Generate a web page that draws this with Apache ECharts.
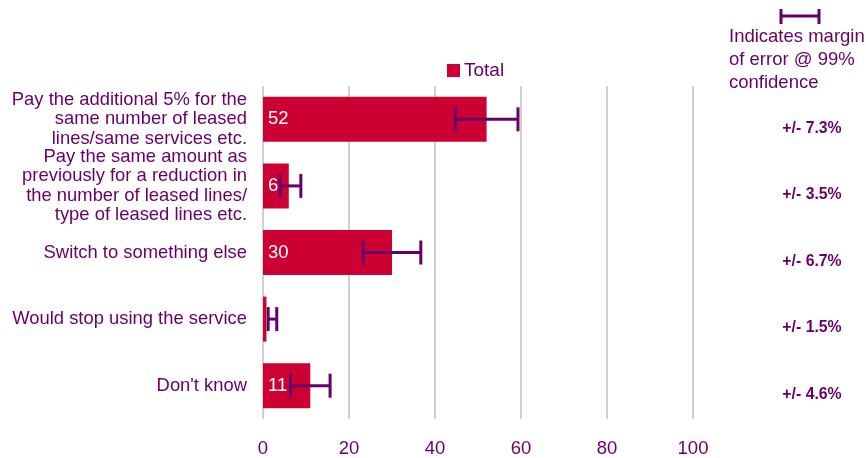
<!DOCTYPE html>
<html>
<head>
<meta charset="utf-8">
<script src="https://cdn.jsdelivr.net/npm/echarts@6/dist/echarts.min.js"></script>
<style>html,body{margin:0;padding:0;background:#fff}#c{width:866px;height:458px}</style>
</head>
<body>
<div id="c"></div>
<script>
const categories = [
  "Pay the additional 5% for the\nsame number of leased\nlines/same services etc.",
  "Pay the same amount as\npreviously for a reduction in\nthe number of leased lines/\ntype of leased lines etc.",
  "Switch to something else",
  "Would stop using the service",
  "Don't know"
];
const totals = [52, 6, 30, 0.8, 11];
const errLow = [44.7, 4, 23.3, 1.2, 6.4];
const errHigh = [59.3, 8.8, 36.7, 3.2, 15.6];
const marginLabels = ["+/- 7.3%", "+/- 3.5%", "+/- 6.7%", "+/- 1.5%", "+/- 4.6%"];
const xTicks = [0, 20, 40, 60, 80, 100];

const PURPLE = '#660066';
const RED = '#cc0033';
const FONT = '"Liberation Sans", Arial, sans-serif';

const chart = echarts.init(document.getElementById('c'), null, {renderer: 'canvas'});

const errData = categories.map((c, i) => [i, errLow[i], errHigh[i]]);
const marginData = categories.map((c, i) => [i, marginLabels[i]]);

chart.setOption({
  animation: false,
  textStyle: {fontFamily: FONT},
  grid: {left: 263, right: 173, top: 86, height: 334, containLabel: false},
  legend: {
    data: [{name: 'Total', icon: 'rect'}],
    left: 447, top: 61, padding: 0,
    itemWidth: 13, itemHeight: 13, itemGap: 10,
    textStyle: {color: PURPLE, fontSize: 19, fontFamily: FONT, padding: [0, 0, 0, -1]},
    selectedMode: false
  },
  xAxis: {
    type: 'value', min: 0, max: 100, interval: 20,
    axisLine: {show: false}, axisTick: {show: false},
    axisLabel: {color: PURPLE, fontSize: 18.5, margin: 20, fontFamily: FONT,
      formatter: v => xTicks.includes(v) ? String(v) : ''},
    splitLine: {show: true, lineStyle: {color: '#d0d0d0', width: 2}}
  },
  yAxis: {
    type: 'category', data: categories, inverse: true,
    axisLine: {show: false}, axisTick: {show: false},
    axisLabel: {color: PURPLE, fontSize: 18.4, lineHeight: 19.5, margin: 16, fontFamily: FONT, align: 'right', interval: 0}
  },
  series: [
    {
      name: 'Total', type: 'bar', data: totals, barWidth: 45,
      itemStyle: {color: RED},
      label: {show: true, position: 'insideLeft', distance: 5, color: '#fff', fontSize: 18.5, fontFamily: FONT,
        formatter: p => p.value >= 2 ? String(p.value) : ''},
      z: 2
    },
    {
      type: 'custom', name: 'err',
      data: errData,
      renderItem: function (params, api) {
        const i = api.value(0);
        const lo = api.coord([api.value(1), i]);
        const hi = api.coord([api.value(2), i]);
        const h = 12;
        const style = {stroke: PURPLE, lineWidth: 3};
        return {
          type: 'group',
          children: [
            {type: 'line', shape: {x1: lo[0], y1: lo[1], x2: hi[0], y2: hi[1]}, style: style},
            {type: 'line', shape: {x1: lo[0], y1: lo[1] - h, x2: lo[0], y2: lo[1] + h}, style: style},
            {type: 'line', shape: {x1: hi[0], y1: hi[1] - h, x2: hi[0], y2: hi[1] + h}, style: style}
          ]
        };
      },
      z: 5
    },
    {
      type: 'custom', name: 'margin',
      data: marginData,
      renderItem: function (params, api) {
        const i = api.value(0);
        const p = api.coord([0, i]);
        return {
          type: 'text',
          x: 812, y: p[1] + 9,
          style: {text: marginLabels[i], fill: PURPLE, font: 'bold 15.8px ' + FONT, align: 'center', verticalAlign: 'middle'}
        };
      },
      clip: false
    }
  ],
  graphic: [
    {type: 'line', shape: {x1: 781, y1: 16, x2: 819, y2: 16}, style: {stroke: PURPLE, lineWidth: 3}},
    {type: 'line', shape: {x1: 781, y1: 9, x2: 781, y2: 24}, style: {stroke: PURPLE, lineWidth: 3}},
    {type: 'line', shape: {x1: 819, y1: 9, x2: 819, y2: 24}, style: {stroke: PURPLE, lineWidth: 3}},
    {type: 'text', left: 729, top: 25,
      style: {text: 'Indicates margin\nof error @ 99%\nconfidence', fill: PURPLE, font: '18.5px ' + FONT, lineHeight: 23}}
  ]
});
</script>
</body>
</html>
